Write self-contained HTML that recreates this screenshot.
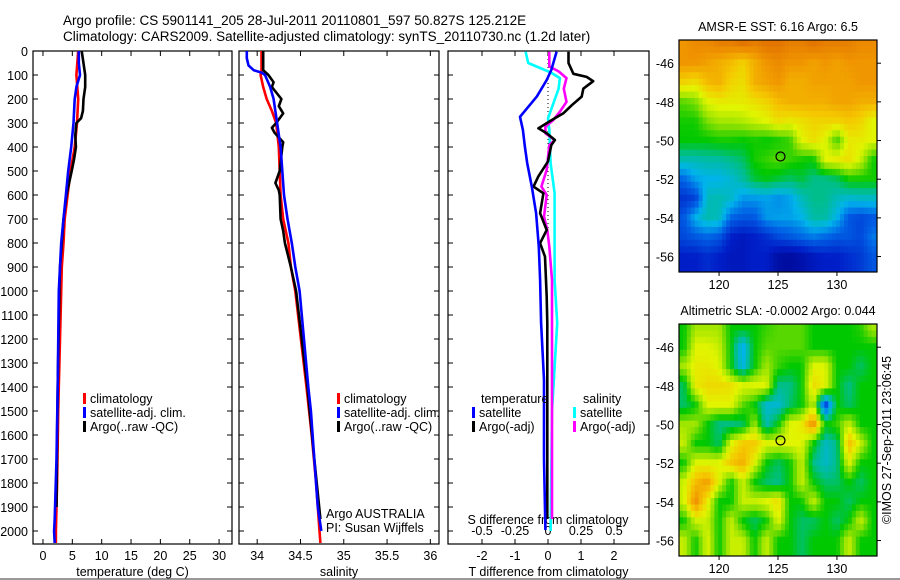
<!DOCTYPE html>
<html><head><meta charset="utf-8">
<style>
html,body{margin:0;padding:0;background:#fff;}
svg{display:block;font-family:"Liberation Sans",Arial,sans-serif;}
</style></head>
<body>
<svg id="fig" width="900" height="580" viewBox="0 0 900 580" xmlns="http://www.w3.org/2000/svg">
<rect x="0" y="0" width="900" height="580" fill="#fff"/>
<line x1="0" y1="579" x2="900" y2="579" stroke="#999" stroke-width="2"/>
<text x="63" y="25" font-size="13.5">Argo profile: CS 5901141_205 28-Jul-2011 20110801_597 50.827S 125.212E</text>
<text x="63" y="41" font-size="13.5">Climatology: CARS2009. Satellite-adjusted climatology: synTS_20110730.nc (1.2d later)</text>
<g id="g1"></g>
<g id="g2"></g>
<g id="g3"></g>
<g id="g4"></g>
<g id="g5"></g>
<text transform="translate(891,440) rotate(-90)" text-anchor="middle" font-size="12.5">©IMOS 27-Sep-2011 23:06:45</text>
</svg>
<script>
// ---------- data ----------
const tDepth_clim=[0,100,200,300,400,500,600,700,800,900,1000,1200,1500,1800,2000,2050];
const tVal_clim=[6.0,5.7,6.0,5.8,5.4,4.7,4.2,3.7,3.5,3.2,3.1,2.9,2.6,2.4,2.2,2.2];
const tDepth_sat=[0,50,100,150,200,300,400,500,600,700,800,900,1000,1400,1700,1950,2000,2050];
const tVal_sat=[6.1,6.1,6.3,5.7,5.4,5.2,4.8,4.3,3.9,3.5,3.1,2.9,2.7,2.5,2.3,2.0,1.9,2.0];
const tDepth_argo=[0,100,150,200,250,280,300,350,400,450,500,600,700,800,900,1000,1400,1600,1900];
const tVal_argo=[6.6,7.2,7.2,6.9,6.8,6.5,5.7,5.5,5.6,5.3,4.9,4.0,3.5,3.2,2.9,2.8,2.5,2.4,2.3];

const sDepth_clim=[0,80,100,150,200,250,300,400,500,600,700,800,900,1000,1400,1600,1800,2000,2050];
const sVal_clim=[34.05,34.05,34.04,34.07,34.11,34.17,34.22,34.25,34.26,34.27,34.30,34.36,34.39,34.44,34.57,34.63,34.68,34.72,34.73];
const sDepth_sat=[0,30,60,80,90,100,150,200,300,400,500,600,700,800,900,1000,1400,1500,1700,1900,2000];
const sVal_sat=[33.88,33.88,33.90,33.96,34.05,34.09,34.15,34.19,34.23,34.27,34.29,34.31,34.35,34.40,34.44,34.49,34.59,34.62,34.66,34.70,34.74];
const sDepth_argo=[0,80,100,130,150,200,230,260,300,320,340,380,400,500,550,580,600,700,750,800,900,1000,1400,1700,1950];
const sVal_argo=[34.07,34.07,34.13,34.19,34.17,34.28,34.25,34.30,34.22,34.17,34.20,34.30,34.29,34.26,34.21,34.25,34.26,34.27,34.30,34.32,34.39,34.45,34.58,34.66,34.73];

const dDepth_tsat=[3,79,121,190,274,329,399,467,565,676,815,954,1133,1371,1700,1996];
const dVal_tsat=[0.26,0.1,-0.04,-0.34,-0.85,-0.76,-0.70,-0.63,-0.49,-0.36,-0.28,-0.24,-0.21,-0.12,-0.12,-0.08];
const dDepth_targo=[3,50,95,108,126,157,190,226,260,288,322,343,371,392,460,522,565,593,676,746,801,857,1024,1135,1400,1700,1950];
const dVal_targo=[0.62,0.62,0.77,1.17,1.37,1.07,1.02,0.72,0.46,0.11,-0.29,-0.04,0.21,0.1,0,-0.29,-0.44,-0.14,-0.24,-0.04,-0.24,-0.09,-0.04,-0.02,-0.02,-0.02,-0.02];
const dDepth_ssat=[3,50,71,89,113,157,219,281,329,467,593,746,954,1133,1500,2000];
const dVal_ssat=[-0.17,-0.15,-0.06,0.02,0.09,0.08,0.04,0.0,0.01,0.02,0.05,0.05,0.05,0.07,0.03,0.02];
const dDepth_sargo=[3,64,85,113,157,212,253,288,315,343,371,392,495,565,600,690,746,815,954,1133,1400,1700,1950];
const dVal_sargo=[0.01,0.01,0.08,0.14,0.12,0.14,0.09,0.04,-0.02,-0.02,0.05,0.01,-0.01,-0.05,-0.01,-0.03,-0.005,0.01,0.03,0.03,0.03,0.03,0.03];

const depthTicks=[0,100,200,300,400,500,600,700,800,900,1000,1100,1200,1300,1400,1500,1600,1700,1800,1900,2000];
const tTicks=[0,5,10,15,20,25,30];
const sTicks=[34,34.5,35,35.5,36];
const sTickLabels=["34","34.5","35","35.5","36"];
const dTTicks=[-2,-1,0,1,2];
const dSTicks=[-0.5,-0.25,0,0.25,0.5];
const dSTickLabels=["-0.5","-0.25","0","0.25","0.5"];

const mapLons=[117,118,119,120,121,122,123,124,125,126,127,128,129,130,131,132,133];
const mapLats=[-45,-46,-47,-48,-49,-50,-51,-52,-53,-54,-55,-56];
const lonTicks=[120,125,130];
const latTicks=[-46,-48,-50,-52,-54,-56];
const sstGrid=[
[0.76,0.78,0.78,0.8,0.8,0.82,0.8,0.82,0.82,0.8,0.8,0.82,0.8,0.8,0.8,0.78,0.78],
[0.76,0.76,0.74,0.72,0.7,0.66,0.72,0.76,0.78,0.76,0.76,0.74,0.76,0.74,0.76,0.76,0.76],
[0.66,0.64,0.7,0.72,0.66,0.64,0.72,0.74,0.76,0.72,0.72,0.74,0.74,0.74,0.74,0.76,0.76],
[0.5,0.52,0.6,0.62,0.62,0.62,0.64,0.66,0.7,0.72,0.72,0.72,0.72,0.74,0.74,0.72,0.72],
[0.46,0.46,0.52,0.55,0.55,0.56,0.58,0.6,0.64,0.62,0.64,0.66,0.66,0.66,0.68,0.66,0.6],
[0.45,0.45,0.45,0.46,0.46,0.45,0.46,0.45,0.46,0.48,0.6,0.64,0.6,0.48,0.62,0.62,0.6],
[0.35,0.35,0.36,0.36,0.38,0.4,0.46,0.48,0.5,0.48,0.46,0.45,0.6,0.62,0.64,0.58,0.46],
[0.22,0.28,0.3,0.3,0.32,0.36,0.42,0.44,0.42,0.4,0.42,0.38,0.38,0.4,0.46,0.46,0.46],
[0.15,0.17,0.34,0.35,0.33,0.27,0.27,0.28,0.26,0.28,0.34,0.38,0.38,0.34,0.32,0.33,0.33],
[0.2,0.3,0.35,0.34,0.22,0.2,0.2,0.27,0.28,0.28,0.3,0.36,0.36,0.3,0.2,0.18,0.2],
[0.18,0.2,0.22,0.2,0.12,0.1,0.12,0.14,0.18,0.2,0.22,0.24,0.22,0.2,0.2,0.18,0.24],
[0.12,0.12,0.14,0.12,0.1,0.1,0.12,0.12,0.06,0.05,0.07,0.1,0.12,0.12,0.14,0.16,0.2]];
const slaGrid=[
[0.45,0.55,0.55,0.55,0.45,0.45,0.45,0.48,0.5,0.5,0.5,0.45,0.45,0.45,0.45,0.47,0.55],
[0.45,0.6,0.6,0.58,0.45,0.28,0.45,0.5,0.5,0.5,0.5,0.45,0.45,0.45,0.45,0.45,0.45],
[0.55,0.62,0.62,0.6,0.45,0.3,0.45,0.55,0.48,0.45,0.45,0.6,0.6,0.45,0.45,0.4,0.45],
[0.4,0.62,0.65,0.65,0.64,0.6,0.6,0.6,0.38,0.38,0.45,0.65,0.6,0.45,0.38,0.45,0.45],
[0.4,0.45,0.6,0.6,0.6,0.5,0.45,0.32,0.32,0.4,0.45,0.58,0.15,0.45,0.4,0.45,0.45],
[0.55,0.55,0.45,0.38,0.38,0.4,0.55,0.35,0.45,0.6,0.62,0.78,0.45,0.48,0.58,0.45,0.45],
[0.58,0.45,0.45,0.4,0.6,0.68,0.68,0.6,0.6,0.6,0.6,0.45,0.33,0.38,0.7,0.58,0.45],
[0.45,0.6,0.6,0.6,0.68,0.72,0.6,0.45,0.4,0.45,0.58,0.38,0.33,0.38,0.6,0.45,0.45],
[0.58,0.7,0.75,0.6,0.45,0.58,0.45,0.4,0.38,0.45,0.58,0.45,0.4,0.4,0.45,0.4,0.45],
[0.58,0.78,0.62,0.45,0.45,0.58,0.58,0.6,0.65,0.45,0.45,0.58,0.45,0.45,0.4,0.45,0.45],
[0.45,0.58,0.58,0.45,0.58,0.45,0.4,0.45,0.6,0.45,0.4,0.4,0.45,0.4,0.45,0.58,0.45],
[0.58,0.45,0.6,0.45,0.58,0.58,0.45,0.58,0.45,0.45,0.4,0.45,0.45,0.45,0.58,0.45,0.45]];
const floatLon=125.212, floatLat=-50.827;

// ---------- helpers ----------
const NS="http://www.w3.org/2000/svg";
function mk(parent,tag,attrs){const e=document.createElementNS(NS,tag);for(const k in attrs)e.setAttribute(k,attrs[k]);parent.appendChild(e);return e;}
function txt(parent,x,y,s,anchor,size){const e=mk(parent,'text',{x:x,y:y,'text-anchor':anchor||'start','font-size':size||12.5});e.textContent=s;return e;}
const Y0=51,YPX=0.24;
function yD(d){return Y0+d*YPX;}
const BOT=544;

function panel(g,x0,x1,xmin,xmax,ticks,labels,xlabel,leftLabels,name){
  const sx=v=>x0+(v-xmin)/(xmax-xmin)*(x1-x0);
  const box=mk(g,'rect',{x:x0,y:Y0,width:x1-x0,height:BOT-Y0,fill:'none',stroke:'#000','stroke-width':1.2});
  
  
  ticks.forEach((t,i)=>{
    const X=sx(t);
    mk(g,'line',{x1:X,y1:Y0,x2:X,y2:Y0+5,stroke:'#000'});
    mk(g,'line',{x1:X,y1:BOT,x2:X,y2:BOT-5,stroke:'#000'});
    if(labels){const e=txt(g,X,BOT+16,labels[i],'middle');
      
      }
  });
  depthTicks.forEach(d=>{
    mk(g,'line',{x1:x0,y1:yD(d),x2:x0+5,y2:yD(d),stroke:'#000'});
    mk(g,'line',{x1:x1,y1:yD(d),x2:x1-5,y2:yD(d),stroke:'#000'});
    if(leftLabels){const e=txt(g,x0-5,yD(d)+5,String(d),'end');
      
      }
  });
  if(xlabel){const e=txt(g,(x0+x1)/2,BOT+32,xlabel,'middle');
    
    }
  return sx;
}
function series(g,sx,depths,vals,color,name,w){
  const pts=depths.map((d,i)=>sx(vals[i]).toFixed(1)+','+yD(d).toFixed(1)).join(' ');
  const p=mk(g,'polyline',{points:pts,fill:'none',stroke:color,'stroke-width':w||2.6,'stroke-linejoin':'round'});
  
  
}
function legend(g,x,y,color,label,name){
  const r=mk(g,'rect',{x:x,y:y-10,width:3,height:11,fill:color});
  
  
  const t=txt(g,x+7,y,label,'start',12.5);
  
  
}

// ---------- panel 1 ----------
const g1=document.getElementById('g1');
const sxT=panel(g1,33,232,-1.7,32.2,tTicks,tTicks.map(String),'temperature (deg C)',true,'temperature');
series(g1,sxT,tDepth_clim,tVal_clim,'#ff0000','temp-climatology-line');
series(g1,sxT,tDepth_argo,tVal_argo,'#000000','temp-argo-line');
series(g1,sxT,tDepth_sat,tVal_sat,'#0000ff','temp-satellite-line');
legend(g1,83,403,'#ff0000','climatology','legend-climatology');
legend(g1,83,417,'#0000ff','satellite-adj. clim.','legend-satellite');
legend(g1,83,431,'#000','Argo(..raw -QC)','legend-argo');

// ---------- panel 2 ----------
const g2=document.getElementById('g2');
const sxS=panel(g2,239,439,33.79,36.1,sTicks,sTickLabels,'salinity',false,'salinity');
series(g2,sxS,sDepth_clim,sVal_clim,'#ff0000','sal-climatology-line');
series(g2,sxS,sDepth_argo,sVal_argo,'#000000','sal-argo-line');
series(g2,sxS,sDepth_sat,sVal_sat,'#0000ff','sal-satellite-line');
legend(g2,337,403,'#ff0000','climatology','legend-climatology-sal');
legend(g2,337,417,'#0000ff','satellite-adj. clim.','legend-satellite-sal');
legend(g2,337,431,'#000','Argo(..raw -QC)','legend-argo-sal');
let e=txt(g2,326,518,'Argo AUSTRALIA');
e=txt(g2,326,532,'PI: Susan Wijffels');

// ---------- panel 3 ----------
const g3=document.getElementById('g3');
const sxD=panel(g3,448,649,-3.03,3.06,dTTicks,dTTicks.map(String),'T difference from climatology',false,'difference');
const sxDS=v=>sxD(v*4);
dSTicks.forEach((t,i)=>{const X=sxDS(t);
  const l=txt(g3,X,BOT-9,dSTickLabels[i],'middle');
  
  
  mk(g3,'line',{x1:X,y1:BOT,x2:X,y2:BOT-4,stroke:'#000'});});
e=txt(g3,548,524,'S difference from climatology','middle');
mk(g3,'line',{x1:sxD(0),y1:Y0,x2:sxD(0),y2:yD(800),stroke:'#000','stroke-dasharray':'1,3','stroke-width':1});
series(g3,sxDS,dDepth_ssat,dVal_ssat,'#00ffff','s-diff-satellite-line');
series(g3,sxDS,dDepth_sargo,dVal_sargo,'#ff00ff','s-diff-argo-line');
series(g3,sxD,dDepth_targo,dVal_targo,'#000000','t-diff-argo-line');
series(g3,sxD,dDepth_tsat,dVal_tsat,'#0000ff','t-diff-satellite-line');
e=txt(g3,481,403,'temperature');
e=txt(g3,583,403,'salinity');
legend(g3,472,417,'#0000ff','satellite','legend-t-satellite');
legend(g3,472,431,'#000','Argo(-adj)','legend-t-argo');
legend(g3,573,417,'#00ffff','satellite','legend-s-satellite');
legend(g3,573,431,'#ff00ff','Argo(-adj)','legend-s-argo');

// ---------- maps ----------
const cmapStops=[[0,[0,0,130]],[0.12,[0,30,200]],[0.22,[0,100,230]],[0.3,[0,180,235]],[0.38,[0,190,140]],[0.45,[0,200,0]],[0.53,[140,225,0]],[0.6,[225,245,0]],[0.68,[245,200,0]],[0.76,[240,150,0]],[0.85,[220,100,0]],[1,[190,20,0]]];
function cmap(v){v=Math.max(0,Math.min(1,v));
  for(let i=1;i<cmapStops.length;i++){if(v<=cmapStops[i][0]){const a=cmapStops[i-1],b=cmapStops[i];const t=(v-a[0])/(b[0]-a[0]);
    return 'rgb('+[0,1,2].map(k=>Math.round(a[1][k]+(b[1][k]-a[1][k])*t)).join(',')+')';}}
  return 'rgb(190,20,0)';}
function drawMap(g,grid,y0,y1,title,name){
  const x0=679,x1=877,lonMin=116.6,lonMax=133.4,latTop=-44.8,latBot=-56.8;
  const sx=l=>x0+(l-lonMin)/(lonMax-lonMin)*(x1-x0);
  const sy=l=>y0+(latTop-l)/(latTop-latBot)*(y1-y0);
  const sub=3, nR=mapLats.length, nC=mapLons.length;
  const cells=mk(g,'g',{});
  
  
  const dLon=1/sub;
  for(let lo=lonMin;lo<lonMax;lo+=dLon){
    for(let la=latTop;la>latBot;la-=dLon){
      const cl=lo+dLon/2, ca=la-dLon/2;
      let fc=Math.max(0,Math.min(nC-1,cl-mapLons[0])), fr=Math.max(0,Math.min(nR-1,mapLats[0]-ca));
      const c0=Math.floor(fc),r0=Math.floor(fr),c1=Math.min(nC-1,c0+1),r1=Math.min(nR-1,r0+1);
      const tc=fc-c0,tr=fr-r0;
      const v=(grid[r0][c0]*(1-tc)+grid[r0][c1]*tc)*(1-tr)+(grid[r1][c0]*(1-tc)+grid[r1][c1]*tc)*tr;
      const X=sx(lo),Y=sy(la);
      mk(cells,'rect',{x:X.toFixed(2),y:Y.toFixed(2),width:(Math.min(x1,sx(lo+dLon))-X+0.5).toFixed(2),height:(Math.min(y1,sy(la-dLon))-Y+0.5).toFixed(2),fill:cmap(v)});
    }
  }
  const fr=mk(g,'rect',{x:x0,y:y0,width:x1-x0,height:y1-y0,fill:'none',stroke:'#000','stroke-width':1.2});
  
  
  lonTicks.forEach(l=>{const X=sx(l);mk(g,'line',{x1:X,y1:y1,x2:X,y2:y1+4,stroke:'#000'});
    const t=txt(g,X,y1+17,String(l),'middle');});
  latTicks.forEach(l=>{const Y=sy(l);mk(g,'line',{x1:x1,y1:Y,x2:x1+4,y2:Y,stroke:'#000'});
    const t=txt(g,x0-5,Y+5,String(l),'end');});
  const t=txt(g,(x0+x1)/2,y0-9,title,'middle');
  const c=mk(g,'circle',{cx:sx(floatLon),cy:sy(floatLat),r:4.5,fill:'none',stroke:'#000','stroke-width':1.2});
  
  
}
drawMap(document.getElementById('g4'),sstGrid,40,272,'AMSR-E SST: 6.16 Argo: 6.5','sst-map');
drawMap(document.getElementById('g5'),slaGrid,324,556,'Altimetric SLA: -0.0002 Argo: 0.044','sla-map');
</script>
</body></html>
